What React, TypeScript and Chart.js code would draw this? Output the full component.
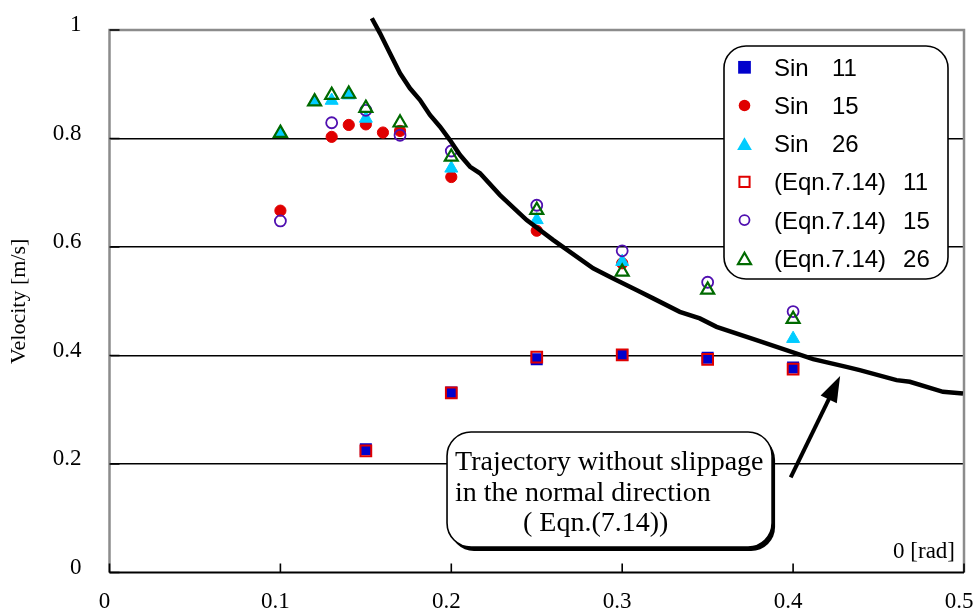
import React, { useEffect, useRef } from 'react';
import { Chart, registerables } from 'chart.js';

Chart.register(...registerables);

// Measured velocities per slope angle (rad)
const sin11X = [0.15, 0.2, 0.25, 0.3, 0.35, 0.4];
const sin11Y = [0.227, 0.332, 0.393, 0.401, 0.396, 0.378];
const sin15X = [0.1, 0.13, 0.14, 0.15, 0.16, 0.17, 0.2, 0.25, 0.3];
const sin15Y = [0.667, 0.803, 0.825, 0.826, 0.811, 0.814, 0.729, 0.63, 0.57];
const sin26X = [0.1, 0.12, 0.13, 0.14, 0.15, 0.2, 0.25, 0.3, 0.4];
const sin26Y = [0.81, 0.868, 0.87, 0.88, 0.837, 0.745, 0.65, 0.573, 0.431];

// Velocities from Eqn. 7.14
const eqn11X = [0.15, 0.2, 0.25, 0.3, 0.35, 0.4];
const eqn11Y = [0.224, 0.331, 0.397, 0.401, 0.393, 0.375];
const eqn15X = [0.1, 0.13, 0.15, 0.17, 0.2, 0.25, 0.3, 0.35, 0.4];
const eqn15Y = [0.648, 0.829, 0.852, 0.806, 0.777, 0.677, 0.593, 0.535, 0.481];
const eqn26X = [0.1, 0.12, 0.13, 0.14, 0.15, 0.17, 0.2, 0.25, 0.3, 0.35, 0.4];
const eqn26Y = [0.81, 0.868, 0.88, 0.882, 0.856, 0.829, 0.766, 0.668, 0.554, 0.521, 0.467];

// Trajectory without slippage in the normal direction
const trajX = [0.1535, 0.1583, 0.1641, 0.17, 0.1758, 0.1817, 0.1875, 0.1934, 0.1992, 0.2051,
  0.211, 0.2168, 0.2285, 0.2441, 0.2597, 0.283, 0.2947, 0.3104, 0.3181, 0.3337,
  0.3454, 0.3552, 0.3786, 0.4117, 0.4312, 0.439, 0.4605, 0.4683, 0.4877, 0.4994];
const trajY = [1.0216, 0.9939, 0.957, 0.9202, 0.8925, 0.8709, 0.8433, 0.8217, 0.7971, 0.7695,
  0.7479, 0.7358, 0.6957, 0.6496, 0.6127, 0.5606, 0.5421, 0.5174, 0.5053, 0.4805,
  0.4684, 0.4529, 0.4284, 0.3933, 0.3791, 0.373, 0.3546, 0.3515, 0.333, 0.3301];

const seriesLabels = ['Sin 11', 'Sin 15', 'Sin 26', '(Eqn.7.14) 11', '(Eqn.7.14) 15', '(Eqn.7.14) 26'];

const yTickValues = [0, 0.2, 0.4, 0.6, 0.8, 1];
const xTickValues = [0, 0.1, 0.2, 0.3, 0.4, 0.5];

const SERIF = "'Liberation Serif', 'Times New Roman', serif";
const SANS = "'Liberation Sans', Arial, sans-serif";

const toPoints = (xs: number[], ys: number[]) => xs.map((x, i) => ({ x, y: ys[i] }));
const fmt = (v: number) => String(Math.round(v * 10) / 10);

type MarkerStyle = 'rect' | 'circle' | 'triangle';

function drawMarker(
  ctx: CanvasRenderingContext2D,
  style: MarkerStyle,
  x: number,
  y: number,
  r: number,
  fill: string | null,
  stroke: string,
  lw: number
) {
  ctx.beginPath();
  if (style === 'rect') {
    const s = r * Math.SQRT1_2;
    ctx.rect(x - s, y - s, 2 * s, 2 * s);
  } else if (style === 'circle') {
    ctx.arc(x, y, r, 0, Math.PI * 2);
  } else {
    let a = 0;
    ctx.moveTo(x + Math.sin(a) * r, y - Math.cos(a) * r);
    a += (2 * Math.PI) / 3;
    ctx.lineTo(x + Math.sin(a) * r, y - Math.cos(a) * r);
    a += (2 * Math.PI) / 3;
    ctx.lineTo(x + Math.sin(a) * r, y - Math.cos(a) * r);
    ctx.closePath();
  }
  if (fill) {
    ctx.fillStyle = fill;
    ctx.fill();
  }
  if (lw > 0) {
    ctx.strokeStyle = stroke;
    ctx.lineWidth = lw;
    ctx.stroke();
  }
}

const legendMarkers: { style: MarkerStyle; r: number; fill: string | null; stroke: string; lw: number }[] = [
  { style: 'rect', r: 9, fill: '#0000cc', stroke: '#0000cc', lw: 0 },
  { style: 'circle', r: 5.8, fill: '#e00000', stroke: '#e00000', lw: 0 },
  { style: 'triangle', r: 8.5, fill: '#00ccff', stroke: '#00ccff', lw: 0 },
  { style: 'rect', r: 7.2, fill: null, stroke: '#e00000', lw: 2 },
  { style: 'circle', r: 5, fill: null, stroke: '#5010b0', lw: 1.8 },
  { style: 'triangle', r: 7.5, fill: null, stroke: '#006a00', lw: 2.2 },
];

const decorPlugin = {
  id: 'decor',
  beforeDatasetsDraw(chart: any) {
    const { ctx, chartArea: a, scales } = chart;
    const xs = scales.x;
    const ys = scales.y;
    ctx.save();
    // grey frame on top, left and right
    ctx.strokeStyle = '#8c8c8c';
    ctx.lineWidth = 2.5;
    ctx.beginPath();
    ctx.moveTo(a.left, a.bottom);
    ctx.lineTo(a.left, a.top);
    ctx.lineTo(a.right, a.top);
    ctx.lineTo(a.right, a.bottom);
    ctx.stroke();
    // black x axis with inward ticks
    ctx.strokeStyle = '#000';
    ctx.lineWidth = 2;
    ctx.beginPath();
    ctx.moveTo(a.left, a.bottom);
    ctx.lineTo(a.right, a.bottom);
    ctx.stroke();
    ctx.lineWidth = 1.6;
    ctx.beginPath();
    xTickValues.forEach((v) => {
      const px = xs.getPixelForValue(v);
      ctx.moveTo(px, a.bottom);
      ctx.lineTo(px, a.bottom - 9);
    });
    yTickValues.forEach((v) => {
      const py = ys.getPixelForValue(v);
      ctx.moveTo(a.left, py);
      ctx.lineTo(a.left + 10, py);
    });
    ctx.stroke();
    ctx.restore();
  },
  afterDatasetsDraw(chart: any) {
    const { ctx, chartArea: a, scales } = chart;
    const xs = scales.x;
    const ys = scales.y;
    ctx.save();

    // x axis title inside the plot
    ctx.fillStyle = '#000';
    ctx.font = `23px ${SERIF}`;
    ctx.textAlign = 'right';
    ctx.textBaseline = 'alphabetic';
    ctx.fillText('0 [rad]', a.right - 9, a.bottom - 14.5);

    // legend panel
    const lw = 224;
    const lh = 233;
    const lx = a.right - 16 - lw;
    const ly = a.top + 16;
    ctx.beginPath();
    ctx.roundRect(lx, ly, lw, lh, 22);
    ctx.fillStyle = '#fff';
    ctx.fill();
    ctx.strokeStyle = '#000';
    ctx.lineWidth = 1.6;
    ctx.stroke();
    ctx.font = `24px ${SANS}`;
    ctx.textAlign = 'left';
    seriesLabels.forEach((label, i) => {
      const rowY = ly + 21.3 + i * 38.2;
      const m = legendMarkers[i];
      drawMarker(ctx, m.style, lx + 20.5, rowY + (m.style === 'triangle' ? 2 : 0), m.r, m.fill, m.stroke, m.lw);
      const cut = label.lastIndexOf(' ');
      const name = label.slice(0, cut);
      const num = label.slice(cut + 1);
      ctx.fillStyle = '#000';
      const tx = lx + 50;
      ctx.fillText(name, tx, rowY + 8.5);
      const nx = tx + Math.max(ctx.measureText(name).width + 17, 58);
      ctx.fillText(num, nx, rowY + 8.5);
    });

    // callout box
    const bx0 = xs.getPixelForValue(0.1975);
    const bx1 = xs.getPixelForValue(0.3877);
    const by0 = ys.getPixelForValue(0.259);
    const by1 = ys.getPixelForValue(0.047);
    ctx.beginPath();
    ctx.roundRect(bx0 + 3, by0 + 4, bx1 - bx0, by1 - by0, 24);
    ctx.fillStyle = '#000';
    ctx.fill();
    ctx.beginPath();
    ctx.roundRect(bx0, by0, bx1 - bx0, by1 - by0, 24);
    ctx.fillStyle = '#fff';
    ctx.fill();
    ctx.strokeStyle = '#000';
    ctx.lineWidth = 1.6;
    ctx.stroke();
    ctx.fillStyle = '#000';
    ctx.font = `28px ${SERIF}`;
    ctx.textAlign = 'left';
    ctx.fillText('Trajectory without slippage', bx0 + 8, by0 + 38);
    ctx.fillText('in the normal direction', bx0 + 8, by0 + 69);
    ctx.fillText('( Eqn.(7.14))', bx0 + 76, by0 + 99);

    // arrow pointing at the trajectory
    const tx0 = xs.getPixelForValue(0.3986);
    const ty0 = ys.getPixelForValue(0.1755);
    const tx1 = xs.getPixelForValue(0.4275);
    const ty1 = ys.getPixelForValue(0.3622);
    const dx = tx1 - tx0;
    const dy = ty1 - ty0;
    const len = Math.hypot(dx, dy);
    const ux = dx / len;
    const uy = dy / len;
    const headLen = 26;
    const headHalf = 9;
    const bxm = tx1 - ux * headLen;
    const bym = ty1 - uy * headLen;
    ctx.strokeStyle = '#000';
    ctx.lineWidth = 4;
    ctx.beginPath();
    ctx.moveTo(tx0, ty0);
    ctx.lineTo(bxm + ux * 2, bym + uy * 2);
    ctx.stroke();
    ctx.beginPath();
    ctx.moveTo(tx1, ty1);
    ctx.lineTo(bxm - uy * headHalf, bym + ux * headHalf);
    ctx.lineTo(bxm + uy * headHalf, bym - ux * headHalf);
    ctx.closePath();
    ctx.fill();

    ctx.restore();
  },
};

export default function App() {
  const canvasRef = useRef<HTMLCanvasElement | null>(null);

  useEffect(() => {
    const canvas = canvasRef.current;
    if (!canvas) return;

    const chart = new Chart(canvas, {
      type: 'scatter',
      data: {
        datasets: [
          {
            label: 'Trajectory',
            data: toPoints(trajX, trajY),
            showLine: true,
            borderColor: '#000',
            borderWidth: 4.5,
            pointRadius: 0,
            tension: 0,
            clip: false as any,
            order: 0,
          },
          {
            label: seriesLabels[5],
            data: toPoints(eqn26X, eqn26Y),
            pointStyle: 'triangle',
            pointRadius: 7.5,
            backgroundColor: 'rgba(0,0,0,0)',
            borderColor: '#006a00',
            borderWidth: 2.2,
            order: 1,
          },
          {
            label: seriesLabels[4],
            data: toPoints(eqn15X, eqn15Y),
            pointStyle: 'circle',
            pointRadius: 5.5,
            backgroundColor: 'rgba(0,0,0,0)',
            borderColor: '#5010b0',
            borderWidth: 1.8,
            order: 2,
          },
          {
            label: seriesLabels[3],
            data: toPoints(eqn11X, eqn11Y),
            pointStyle: 'rect',
            pointRadius: 7.6,
            backgroundColor: 'rgba(0,0,0,0)',
            borderColor: '#e00000',
            borderWidth: 2,
            order: 3,
          },
          {
            label: seriesLabels[2],
            data: toPoints(sin26X, sin26Y),
            pointStyle: 'triangle',
            pointRadius: 7.5,
            backgroundColor: '#00ccff',
            borderColor: '#00ccff',
            borderWidth: 1,
            order: 4,
          },
          {
            label: seriesLabels[1],
            data: toPoints(sin15X, sin15Y),
            pointStyle: 'circle',
            pointRadius: 5.6,
            backgroundColor: '#e00000',
            borderColor: '#e00000',
            borderWidth: 1,
            order: 5,
          },
          {
            label: seriesLabels[0],
            data: toPoints(sin11X, sin11Y),
            pointStyle: 'rect',
            pointRadius: 8.5,
            backgroundColor: '#0000cc',
            borderColor: '#0000cc',
            borderWidth: 0,
            order: 6,
          },
        ],
      },
      options: {
        animation: false,
        responsive: false,
        maintainAspectRatio: false,
        events: [],
        layout: { padding: { left: 0, top: 30, right: 13, bottom: 0 } },
        plugins: {
          legend: { display: false },
          tooltip: { enabled: false },
          title: { display: false },
        },
        scales: {
          x: {
            type: 'linear',
            min: 0,
            max: 0.5,
            afterBuildTicks: (scale: any) => {
              scale.ticks = xTickValues.map((value) => ({ value }));
            },
            afterFit: (scale: any) => {
              scale.height = 41.5;
              scale.paddingLeft = 0;
              scale.paddingRight = 0;
              scale.paddingTop = 0;
              scale.paddingBottom = 0;
            },
            grid: { display: false, drawTicks: false },
            border: { display: false },
            ticks: {
              padding: 16,
              labelOffset: -5,
              color: '#000',
              font: { family: SERIF, size: 23 },
              callback: (v: any) => fmt(Number(v)),
              autoSkip: false,
              maxRotation: 0,
            },
          },
          y: {
            type: 'linear',
            min: 0,
            max: 1,
            afterBuildTicks: (scale: any) => {
              scale.ticks = yTickValues.map((value) => ({ value }));
            },
            afterFit: (scale: any) => {
              scale.width = 109.5;
              scale.paddingTop = 0;
              scale.paddingBottom = 0;
              scale.paddingLeft = 0;
              scale.paddingRight = 0;
            },
            grid: {
              drawTicks: false,
              lineWidth: 1.6,
              color: (c: any) => {
                const v = c.tick ? c.tick.value : 0;
                return v > 0.01 && v < 0.99 ? '#000' : 'rgba(0,0,0,0)';
              },
            },
            border: { display: false },
            title: {
              display: true,
              text: 'Velocity [m/s]',
              color: '#000',
              font: { family: SERIF, size: 22 },
              padding: { top: 6, bottom: 0 },
            },
            ticks: {
              padding: 28,
              labelOffset: -5,
              color: '#000',
              font: { family: SERIF, size: 23 },
              callback: (v: any) => fmt(Number(v)),
              autoSkip: false,
            },
          },
        },
      },
      plugins: [decorPlugin],
    } as any);

    return () => chart.destroy();
  }, []);

  return (
    <div style={{ position: 'fixed', left: 0, top: 0, width: 977, height: 614, background: '#fff' }}>
      <canvas ref={canvasRef} width={977} height={614} style={{ display: 'block' }} />
    </div>
  );
}
